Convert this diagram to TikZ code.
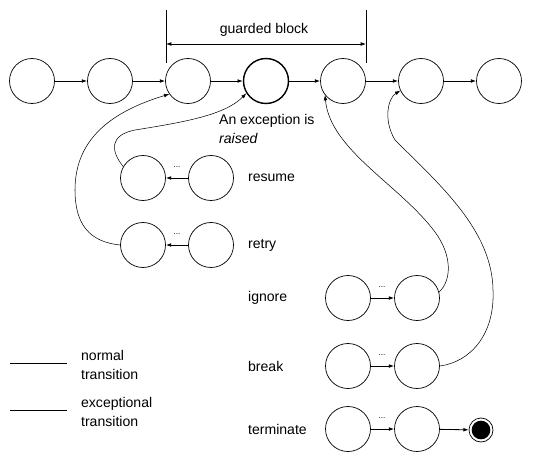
\documentclass[tikz,border=0pt]{standalone}
\usepackage{fontspec}
\setmainfont{Liberation Sans}
\usetikzlibrary{arrows.meta}
\tikzset{
  state/.style={draw, circle, minimum size=1.35cm, inner sep=0pt, line width=0.6pt},
  normal/.style={-{Latex[length=4.5pt,width=3.2pt]}, line width=0.7pt},
  except/.style={-{Latex[length=4.5pt,width=3.2pt]}, line width=0.45pt},
  lbl/.style={anchor=west, font=\fontsize{12}{16}\selectfont},
  dots/.style={font=\scriptsize, inner sep=0pt},
}
\begin{document}
\begin{tikzpicture}[x=0.03cm, y=-0.03cm]
\useasboundingbox (0,0) rectangle (534,453);
% main flow
\node[state] (s1) at (32,81) {};
\node[state] (s2) at (110,81) {};
\node[state] (s3) at (188,81) {};
\node[state, line width=1.2pt] (s4) at (266,81) {};
\node[state] (s5) at (343,81) {};
\node[state] (s6) at (421,81) {};
\node[state] (s7) at (499,81) {};
\foreach \a/\b in {s1/s2,s2/s3,s3/s4,s4/s5,s5/s6,s6/s7}
  \draw[normal] (\a) -- (\b);
% guarded block
\coordinate (gl) at (166,10);
\coordinate (gr) at (366,10);
\draw[line width=0.6pt] (gl) -- (166,63);
\draw[line width=0.6pt] (gr) -- (366,63);
\draw[{Latex[length=4.5pt,width=3.2pt]}-{Latex[length=4.5pt,width=3.2pt]}, line width=0.6pt] (166,44) -- (366,44);
\node[font=\fontsize{12}{16}\selectfont] (gb) at (264,30) {guarded block};
\node[lbl, align=left] (exc) at (215,129) {An exception is\\\textit{raised}};
% handler rows
\node[state] (r1) at (143,178) {};
\node[state] (r2) at (211,178) {};
\node[state] (t1) at (143,245) {};
\node[state] (t2) at (211,245) {};
\node[state] (i1) at (348,298) {};
\node[state] (i2) at (417,298) {};
\node[state] (b1) at (348,366) {};
\node[state] (b2) at (417,366) {};
\node[state] (e1) at (348,429) {};
\node[state] (e2) at (417,429) {};
\node[circle, draw, line width=0.6pt, minimum size=0.72cm, inner sep=0pt] (fin) at (481,430) {};
\fill (fin) circle (0.28cm);
\draw[normal] (r2) -- (r1);
\draw[normal] (t2) -- (t1);
\draw[normal] (i1) -- (i2);
\draw[normal] (b1) -- (b2);
\draw[normal] (e1) -- (e2);
\draw[normal] (e2) -- (fin);
\node[dots] (d1) at (177,167) {...};
\node[dots] (d2) at (177,234) {...};
\node[dots] (d3) at (382,287) {...};
\node[dots] (d4) at (382,355) {...};
\node[dots] (d5) at (382,418) {...};
\node[lbl] (lr) at (244,178) {resume};
\node[lbl] (lt) at (244,245) {retry};
\node[lbl] (li) at (244,298) {ignore};
\node[lbl] (lb) at (244,366) {break};
\node[lbl] (le) at (244,429) {terminate};
% exceptional transitions
\draw[except] (r1.150) .. controls (110,150) and (110,135) .. (135,130)
  .. controls (185,122) and (225,115) .. (s4.212);
\draw[except] (t1.west) .. controls (90,242) and (75,225) .. (75,190)
  .. controls (75,140) and (110,112) .. (s3.215);
\draw[except] (i2.15) .. controls (452,280) and (452,255) .. (435,232)
  .. controls (400,185) and (330,150) .. (s5.218);
\draw[except] (b2.east) .. controls (470,362) and (495,335) .. (493,290)
  .. controls (492,230) and (440,185) .. (395,140)
  .. controls (383,120) and (388,98) .. (s6.205);
% legend
\coordinate (n1) at (10,363);
\coordinate (n2) at (67,363);
\coordinate (x1) at (10,410);
\coordinate (x2) at (67,410);
\draw[line width=0.7pt] (n1) -- (n2);
\draw[line width=0.45pt] (x1) -- (x2);
\node[lbl, align=left] (ln) at (77,365) {normal\\transition};
\node[lbl, align=left] (lx) at (77,412) {exceptional\\transition};
\end{tikzpicture}
\end{document}
